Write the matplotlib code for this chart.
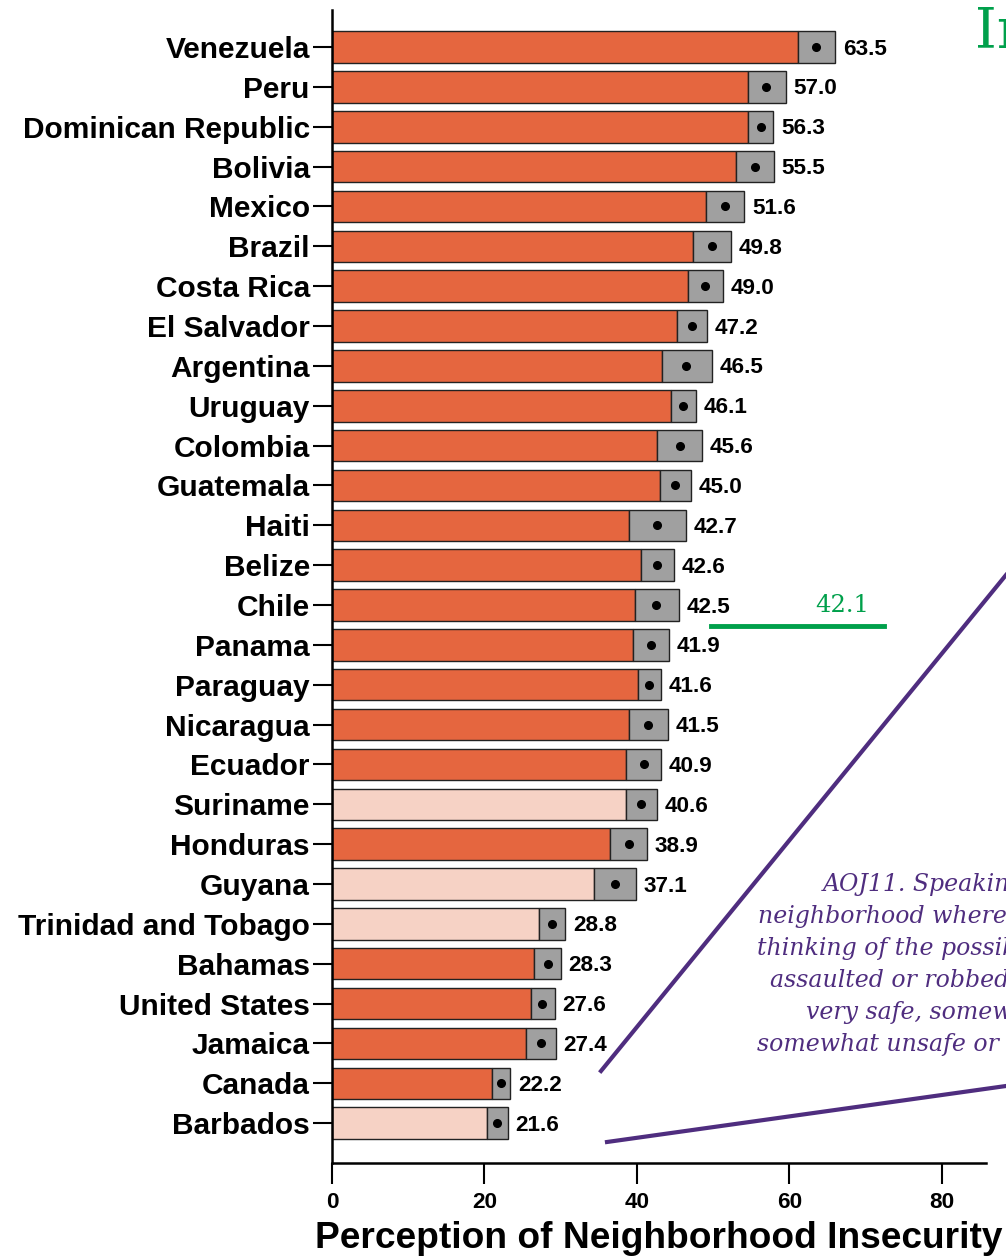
import matplotlib
matplotlib.use("Agg")
import matplotlib.pyplot as plt
from matplotlib.lines import Line2D

# countries, top to bottom
countries = ["Venezuela", "Peru", "Dominican Republic", "Bolivia", "Mexico", "Brazil",
             "Costa Rica", "El Salvador", "Argentina", "Uruguay", "Colombia", "Guatemala",
             "Haiti", "Belize", "Chile", "Panama", "Paraguay", "Nicaragua", "Ecuador",
             "Suriname", "Honduras", "Guyana", "Trinidad and Tobago", "Bahamas",
             "United States", "Jamaica", "Canada", "Barbados"]
values = [63.5, 57.0, 56.3, 55.5, 51.6, 49.8, 49.0, 47.2, 46.5, 46.1, 45.6, 45.0,
          42.7, 42.6, 42.5, 41.9, 41.6, 41.5, 40.9, 40.6, 38.9, 37.1, 28.8, 28.3,
          27.6, 27.4, 22.2, 21.6]
ci_low = [61.1, 54.6, 54.6, 53.0, 49.1, 47.3, 46.7, 45.3, 43.3, 44.5, 42.7, 43.0,
          39.0, 40.5, 39.7, 39.5, 40.2, 39.0, 38.6, 38.6, 36.5, 34.4, 27.1, 26.5,
          26.1, 25.4, 21.0, 20.3]
ci_high = [66.0, 59.5, 57.9, 58.0, 54.1, 52.4, 51.3, 49.2, 49.8, 47.8, 48.6, 47.1,
           46.5, 44.9, 45.5, 44.2, 43.1, 44.1, 43.2, 42.6, 41.3, 39.9, 30.6, 30.0,
           29.2, 29.4, 23.4, 23.1]
# countries drawn in the light colour
light = ["Suriname", "Guyana", "Trinidad and Tobago", "Barbados"]
avg_label = "42.1"
question = ["AOJ11. Speaking of the",
            "neighborhood where you live and",
            "thinking of the possibility of being",
            "assaulted or robbed, do you feel",
            "very safe, somewhat safe,",
            "somewhat unsafe or very unsafe?"]

W, H = 1006, 1257
fig = plt.figure(figsize=(W / 100, H / 100), dpi=100)
ax = fig.add_axes([332 / W, 1 - 1163 / H, (986 - 332) / W, (1163 - 10) / H])

orange = "#E5663F"
pink = "#F6D2C5"
grey = "#A0A0A0"
edge = "#222222"
bh = 0.79

for i, c in enumerate(countries):
    col = pink if c in light else orange
    ax.barh(i, ci_low[i], height=bh, color=col, edgecolor=edge, linewidth=1.0, zorder=2)
    ax.barh(i, ci_high[i] - ci_low[i], left=ci_low[i], height=bh, color=grey,
            edgecolor=edge, linewidth=1.0, zorder=2)
    ax.plot(values[i], i, "o", color="black", markersize=5.5, zorder=3)
    ax.text(ci_high[i] + 1.0, i + 0.05, "%.1f" % values[i], va="center", ha="left",
            fontsize=16.2, fontweight="bold", family="Liberation Sans")

ax.set_xlim(0, 85.8)
ax.set_ylim(len(countries) - 1 + 1.0, -0.93)
ax.set_yticks(range(len(countries)))
ax.set_yticklabels(countries, fontsize=21.5, fontweight="bold", family="Liberation Sans")
ax.set_xticks([0, 20, 40, 60, 80])
ax.set_xticklabels(["0", "20", "40", "60", "80"], fontsize=16.2, fontweight="bold",
                   family="Liberation Sans")
ax.tick_params(axis="y", length=14, width=1.5, pad=2)
ax.tick_params(axis="x", length=15, width=1.5, pad=6)
ax.spines["top"].set_visible(False)
ax.spines["right"].set_visible(False)
ax.spines["left"].set_linewidth(1.8)
ax.spines["bottom"].set_linewidth(1.8)
ax.set_xlabel("Perception of Neighborhood Insecurity", fontsize=26.7, fontweight="bold",
              family="Liberation Sans", labelpad=6)

# overlay decorations in figure pixels
def fx(px):
    return px / W

def fy(py):
    return 1 - py / H

green = "#00A04B"
purple = "#4F2D7F"
fig.add_artist(Line2D([fx(711), fx(884)], [fy(626), fy(626)], color=green, lw=3.5))
fig.text(fx(842), fy(605), avg_label, color=green, fontsize=17.5, family="DejaVu Serif",
         ha="center", va="center")
fig.add_artist(Line2D([fx(601), fx(1006)], [fy(1071), fy(575)], color=purple, lw=3))
fig.add_artist(Line2D([fx(607), fx(1006)], [fy(1142), fy(1086)], color=purple, lw=3))
starts = [823, 758, 757, 770, 806, 757]
for k, line in enumerate(question):
    fig.text(fx(starts[k]), fy(885 + 31.8 * k), line, color=purple, fontsize=17,
             family="DejaVu Serif", style="italic", ha="left", va="center")
fig.text(fx(975), fy(33), "In", color=green, fontsize=40, family="DejaVu Serif",
         ha="left", va="center")

fig.savefig("out.png", dpi=100)
